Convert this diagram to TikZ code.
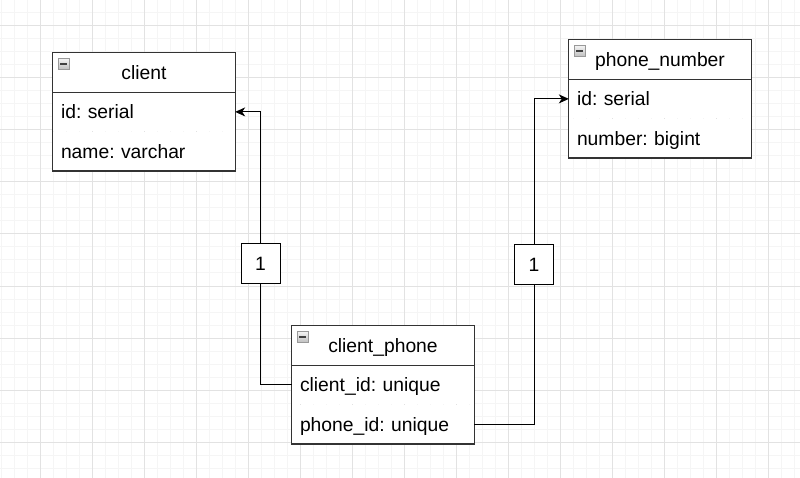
\documentclass[tikz,border=0pt]{standalone}
\usepackage{fontspec}
\setmainfont{Liberation Sans}
\usepackage{tikz}
\usetikzlibrary{arrows.meta,positioning}
\tikzset{>={Stealth[width=9pt,length=10pt,inset=3pt]}}
\definecolor{gridmajor}{HTML}{E2E2E2}
\definecolor{gridminor}{HTML}{F5F5F5}
\definecolor{boxline}{HTML}{333333}
\tikzset{
  tablehead/.style={fill=white, minimum width=182pt, minimum height=39pt, inner sep=0pt,
    text height=14pt, text depth=0pt},
  tablerow/.style={fill=white, minimum width=182pt, minimum height=39pt, text width=166pt,
    inner xsep=8pt, inner ysep=0pt, align=left, text height=14pt, text depth=0pt},
  tableframe/.style={draw=boxline, line width=1.2pt},
  cardbox/.style={draw=black, line width=1pt, fill=white, minimum size=39pt,
    inner sep=0pt, text height=14pt, text depth=0pt},
  minusicon/.style={draw=gray!80, line width=0.8pt, minimum size=11pt, inner sep=0pt,
    top color=gray!8, bottom color=gray!50,
    path picture={\draw[line width=2pt, black!75]
      ([xshift=-3.5pt]path picture bounding box.center) --
      ([xshift=3.5pt]path picture bounding box.center);}},
  link/.style={draw=black, line width=1pt}
}

\begin{document}
\frenchspacing
\begin{tikzpicture}[x=1pt, y=-1pt, font=\fontsize{19.3}{23}\selectfont]

  \useasboundingbox[fill=white] (0,0) rectangle (800,478);

  %% background grid
  \foreach \i in {0,...,61} \draw[gridminor, line width=1pt] (1+13*\i, 0) -- (1+13*\i, 478);
  \foreach \j in {0,...,36} \draw[gridminor, line width=1pt] (0, 13*\j) -- (800, 13*\j);
  \foreach \i in {0,...,14} \draw[gridmajor, line width=1pt] (40+52*\i, 0) -- (40+52*\i, 478);
  \foreach \j in {0,...,8} \draw[gridmajor, line width=1pt] (0, 26+52*\j) -- (800, 26+52*\j);

  %% client
  \node[tablehead] (c-head) at (144, 72.5) {client};
  \node[tablerow, below=0pt of c-head] (c-id) {id: serial};
  \node[tablerow, below=0pt of c-id] (c-name) {name: varchar};
  \draw[tableframe] (c-head.north west) rectangle (c-name.south east);
  \draw[tableframe] (c-head.south west) -- (c-head.south east);
  \node[minusicon] at ([xshift=11pt,yshift=-11pt]c-head.north west) {};

  %% phone_number
  \node[tablehead] (p-head) at (660, 59.5) {phone\_number};
  \node[tablerow, below=0pt of p-head] (p-id) {id: serial};
  \node[tablerow, below=0pt of p-id] (p-num) {number: bigint};
  \draw[tableframe] (p-head.north west) rectangle (p-num.south east);
  \draw[tableframe] (p-head.south west) -- (p-head.south east);
  \node[minusicon] at ([xshift=11pt,yshift=-11pt]p-head.north west) {};

  %% client_phone
  \node[tablehead] (cp-head) at (383, 345.5) {client\_phone};
  \node[tablerow, below=0pt of cp-head] (cp-client) {client\_id: unique};
  \node[tablerow, below=0pt of cp-client] (cp-phone) {phone\_id: unique};
  \draw[tableframe] (cp-head.north west) rectangle (cp-phone.south east);
  \draw[tableframe] (cp-head.south west) -- (cp-head.south east);
  \node[minusicon] at ([xshift=11pt,yshift=-11pt]cp-head.north west) {};

  %% cardinality labels
  \node[cardbox] (card-c) at (260.5, 263.5) {1};
  \node[cardbox] (card-p) at (534, 264.5) {1};

  %% links
  \draw[link] (cp-client.west) -| (card-c.south);
  \draw[link, ->] (card-c.north) |- (c-id.east);
  \draw[link] (cp-phone.east) -| (card-p.south);
  \draw[link, ->] (card-p.north) |- (p-id.west);

\end{tikzpicture}
\end{document}
